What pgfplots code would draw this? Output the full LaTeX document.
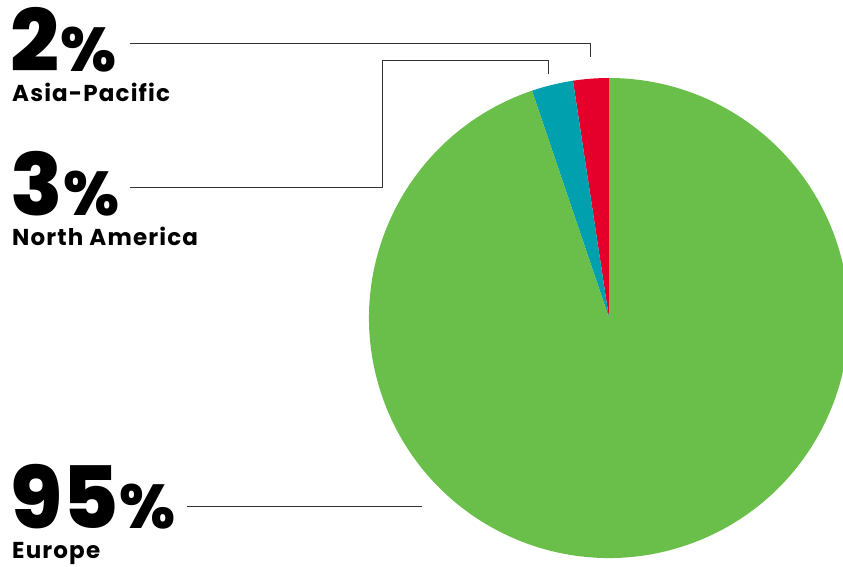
\documentclass[border=0pt]{standalone}
\usepackage{pgfplots}
\pgfplotsset{compat=1.18}
\usepackage{pgfplotstable}
\usepackage{fontspec}
\setmainfont{Poppins}
\newfontfamily\blackfont{Poppins ExtraBold}
\newfontfamily\labelfont[LetterSpace=5]{Poppins Bold}
\definecolor{eugreen}{HTML}{6ABF4B}
\definecolor{amteal}{HTML}{00A0AF}
\definecolor{apred}{HTML}{E4002B}
\definecolor{leader}{HTML}{333333}

\pgfplotstableread{
region value
AsiaPacific 2.4
NorthAmerica 2.8
Europe 94.8
}\piedata
\pgfplotstablegetelem{0}{value}\of\piedata \let\vAP\pgfplotsretval
\pgfplotstablegetelem{1}{value}\of\piedata \let\vNA\pgfplotsretval
\pgfplotstablegetelem{2}{value}\of\piedata \let\vEU\pgfplotsretval
\pgfmathsetmacro{\aA}{90+3.6*\vAP}
\pgfmathsetmacro{\aB}{\aA+3.6*\vNA}
\pgfmathsetmacro{\aC}{\aB+3.6*\vEU}

\newcommand{\bignum}[1]{{\blackfont\fontsize{86}{86}\selectfont #1\kern1pt\fontsize{62}{62}\selectfont\%}}
\newcommand{\reglabel}[1]{{\labelfont\fontsize{23}{23}\selectfont #1}}

\begin{document}
\begin{tikzpicture}
\begin{axis}[
  width=843pt, height=566pt, scale only axis,
  xmin=0, xmax=843, ymin=0, ymax=566,
  hide axis, clip=true,
]
% pie slices (center px (609,318) -> y = 566-318 = 248), radius 240
\fill[apred] (axis cs:609,248) -- ++(90:240pt) arc[start angle=90, end angle=\aA, radius=240pt] -- cycle;
\fill[amteal] (axis cs:609,248) -- ++(\aA:240pt) arc[start angle=\aA, end angle=\aB, radius=240pt] -- cycle;
\fill[eugreen] (axis cs:609,248) -- ++(\aB:240pt) arc[start angle=\aB, end angle=\aC, radius=240pt] -- cycle;

% leader lines
\draw[leader, line width=0.9pt] (axis cs:130,523) -- (axis cs:590,523) -- (axis cs:590,509);
\draw[leader, line width=0.9pt] (axis cs:130,379) -- (axis cs:382,379) -- (axis cs:382,506) -- (axis cs:548,506) -- (axis cs:548,492);
\draw[leader, line width=0.9pt] (axis cs:187,60) -- (axis cs:422,60);

% labels
\node[anchor=base west, inner sep=0pt, text depth=0pt, text height=62pt] at (axis cs:10,494) {\bignum{2}};
\node[anchor=base west, inner sep=0pt] at (axis cs:12,464) {\reglabel{Asia-Pacific}};
\node[anchor=base west, inner sep=0pt, text depth=0pt, text height=62pt] at (axis cs:10,351) {\bignum{3}};
\node[anchor=base west, inner sep=0pt] at (axis cs:12,321) {\reglabel{North America}};
\node[anchor=base west, inner sep=0pt, text depth=0pt, text height=62pt] at (axis cs:10,38) {\bignum{95}};
\node[anchor=base west, inner sep=0pt] at (axis cs:12,8) {\reglabel{Europe}};
\end{axis}
\pgfresetboundingbox
\path (current axis.south west) rectangle (current axis.north east);
\end{tikzpicture}
\end{document}
